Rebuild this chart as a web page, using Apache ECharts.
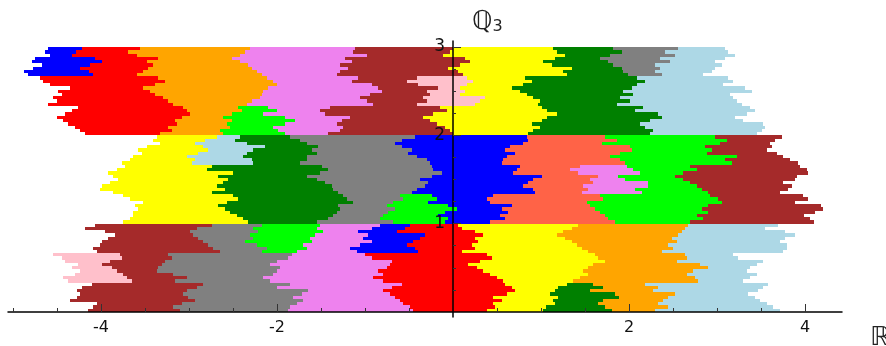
<!DOCTYPE html>
<html><head><meta charset="utf-8"><style>html,body{margin:0;padding:0;background:#fff}#c{width:886px;height:346px}</style>
<script src="https://cdn.jsdelivr.net/npm/echarts@6/dist/echarts.min.js"></script></head><body><div id="c"></div>
<script>
const palette = {blue:'#0000ff',red:'#ff0000',orange:'#ffa500',violet:'#ee82ee',brown:'#a52a2a',yellow:'#ffff00',green:'#008000',gray:'#808080',lightblue:'#add8e6',pink:'#ffc0cb',lime:'#00ff00',tomato:'#ff6347'};
const xLabelTicks = [-4,-2,2,4];
const xMinorTicks = [-5,-4.5,-3.5,-3,-2.5,-1.5,-1,-0.5,0.5,1,1.5,2.5,3,3.5];
const yLabelTicks = [1,2,3];
const yMinorTicks = [0.25,0.5,0.75,1.25,1.5,1.75,2.25,2.5,2.75];

// Each piece: the y range it covers, the colour order left to right, and the edges (one list per boundary, one value per row, top row first).
const top1Range=[3,2.6667], top1Colors=['blue','red','orange','violet','brown','yellow','green','gray','lightblue'];
const top1Edges=[
[-4.60,-4.64,-4.58,-4.75,-4.78,-4.67,-4.77,-4.88,-4.83],
[-4.22,-4.28,-4.33,-4.07,-3.99,-4.13,-4.24,-4.14,-4.09],
[-3.56,-3.69,-3.59,-3.35,-3.48,-3.41,-3.47,-3.52,-3.59],
[-2.31,-2.36,-2.42,-2.51,-2.42,-2.33,-2.28,-2.23,-2.17],
[-1.11,-1.14,-0.98,-1.23,-1.15,-1.28,-1.19,-1.28,-1.32],
[0,-0.03,-0.11,0.14,0.19,0.08,-0.06,0.06,0.11],
[1.14,1.18,1.27,1.16,1.02,1.13,1.35,1.25,1.30],
[1.82,1.92,1.78,1.67,1.76,1.82,1.92,1.93,1.99],
[2.56,2.41,2.52,2.35,2.47,2.30,2.35,2.30,2.38],
[3.09,3.13,3.20,3.09,2.98,3.06,2.98,2.94,2.84]];
const top2Range=[2.6667,2.3333], top2Colors=['red','orange','violet','brown','pink','yellow','green','lightblue'];
const top2Edges=[
[-4.69,-4.66,-4.58,-4.35,-4.49,-4.44,-4.55,-4.50,-4.60],
[-3.35,-3.27,-3.39,-3.52,-3.44,-3.39,-3.30,-3.24,-3.18],
[-2.11,-2.05,-2.00,-2.10,-2.16,-2.17,-2.19,-2.28,-2.34],
[-1.08,-1.15,-0.92,-0.85,-0.81,-0.94,-1.06,-0.98,-0.91],
[-0.41,-0.52,-0.40,-0.17,-0.30,-0.26,-0.34,-0.30,-0.41],
[0.16,0.23,0.16,0.08,0.14,0.08,0.36,0.31,0.25],
[0.82,0.90,0.80,0.67,0.76,0.84,0.91,0.99,0.97],
[2.09,2.18,2.09,2.03,1.93,2.05,1.90,2.01,1.86],
[3.13,3.18,3.07,3.32,3.40,3.15,3.18,3.23,3.28]];
const top3Range=[2.3333,2], top3Colors=['red','orange','lime','violet','brown','yellow','green','lightblue'];
const top3Edges=[
[-4.26,-4.33,-4.41,-4.50,-4.43,-4.38,-4.30,-4.24,-4.18],
[-3.07,-3.02,-2.99,-3.08,-3.16,-3.14,-3.24,-3.19,-3.33],
[-2.44,-2.40,-2.51,-2.61,-2.51,-2.57,-2.53,-2.65,-2.61],
[-2.10,-2.00,-2.16,-1.91,-1.80,-1.91,-2.05,-1.99,-1.91],
[-1.40,-1.51,-1.45,-1.17,-1.26,-1.32,-1.25,-1.28,-1.42],
[-0.15,-0.07,-0.23,-0.34,-0.26,-0.18,-0.09,-0.03,0],
[1.01,1.07,1.18,1.07,1.01,0.90,0.99,0.91,0.85],
[2.16,2.07,2.33,2.38,2.24,2.13,2.18,2.27,2.24],
[3.38,3.43,3.34,3.20,3.30,3.52,3.55,3.51,3.45]];

const mid1Range=[2,1.6667], mid1Colors=['yellow','lightblue','green','gray','blue','tomato','lime','brown'];
const mid1Edges=[
[-3.36,-3.41,-3.33,-3.48,-3.58,-3.53,-3.64,-3.67,-3.76],
[-2.68,-2.82,-2.93,-2.84,-2.78,-2.90,-3.02,-2.93,-2.97],
[-2.42,-2.48,-2.34,-2.14,-2.27,-2.34,-2.39,-2.28,-2.27],
[-1.85,-1.74,-1.66,-1.53,-1.60,-1.55,-1.66,-1.66,-1.74],
[-0.43,-0.58,-0.66,-0.58,-0.47,-0.51,-0.41,-0.30,-0.26],
[0.84,0.85,0.80,0.65,0.59,0.70,0.61,0.57,0.56],
[1.73,1.86,1.69,2.01,2.03,1.90,1.78,1.90,1.95],
[2.98,3.11,3.03,2.86,2.94,2.89,3.23,3.09,3.17],
[3.74,3.66,3.60,3.63,3.57,3.68,3.75,3.83,3.92]];
const mid2Range=[1.6667,1.3333], mid2Colors=['yellow','green','gray','blue','tomato','violet','lime','brown'];
const mid2Edges=[
[-3.73,-3.82,-3.92,-3.86,-3.81,-3.90,-3.99,-4.01,-3.86],
[-2.74,-2.80,-2.50,-2.67,-2.56,-2.61,-2.68,-2.59,-2.74],
[-1.49,-1.42,-1.51,-1.66,-1.55,-1.45,-1.38,-1.36,-1.31],
[-0.24,-0.23,-0.13,-0.24,-0.38,-0.28,-0.32,-0.41,-0.47],
[0.76,0.73,0.68,1.01,0.91,0.85,0.80,0.91,0.93],
[1.44,1.33,1.42,1.65,1.56,1.59,1.48,1.53,1.47],
[1.98,2.05,2.13,1.88,1.95,2.22,2.22,2.07,2.15],
[2.69,2.77,2.61,2.52,2.61,2.69,2.77,2.83,2.90],
[3.94,4.02,4.03,3.91,3.89,3.75,3.85,3.81,3.72]];
const mid3Range=[1.3333,1], mid3Colors=['yellow','green','gray','lime','blue','tomato','lime','brown'];
const mid3Edges=[
[-3.75,-3.67,-3.52,-3.61,-3.58,-3.64,-3.64,-3.67,-3.75],
[-2.50,-2.44,-2.57,-2.67,-2.59,-2.53,-2.45,-2.39,-2.33],
[-1.25,-1.20,-1.14,-1.31,-1.28,-1.32,-1.36,-1.42,-1.55],
[-0.60,-0.57,-0.68,-0.75,-0.66,-0.74,-0.80,-0.83,-0.68],
[-0.24,-0.18,-0.28,-0.06,0.05,-0.09,-0.17,-0.06,-0.09],
[0.45,0.39,0.42,0.67,0.56,0.63,0.53,0.59,0.42],
[1.67,1.70,1.52,1.56,1.61,1.67,1.73,1.76,1.84],
[2.92,3.01,3.06,2.90,2.83,2.90,2.77,2.84,2.69],
[3.98,4.03,3.89,4.18,4.20,4.11,3.99,4.06,4.10]];

const bot1Range=[1,0.6667], bot1Colors=['brown','gray','lime','violet','blue','red','yellow','orange','lightblue'];
const bot1Edges=[
[-4.07,-4.18,-3.95,-3.84,-3.92,-3.99,-4.01,-4.09,-4.05],
[-2.74,-2.91,-2.99,-2.95,-2.90,-2.84,-2.78,-2.73,-2.65],
[-2.17,-2.27,-2.22,-2.31,-2.27,-2.36,-2.23,-2.11,-2.17],
[-1.51,-1.55,-1.48,-1.57,-1.63,-1.60,-1.70,-1.66,-1.77],
[-0.83,-0.92,-1.08,-0.97,-1.02,-0.92,-1.06,-1.17,-1.09],
[-0.49,-0.55,-0.64,-0.32,-0.38,-0.45,-0.52,-0.43,-0.40],
[0.06,0.10,0.25,0.34,0.25,0.28,0.22,0.25,0.10],
[1.42,1.35,1.25,1.18,1.27,1.35,1.41,1.47,1.53],
[2.67,2.64,2.60,2.56,2.49,2.55,2.44,2.50,2.38],
[3.69,3.55,3.77,3.89,3.77,3.72,3.80,3.80,3.75]];
const bot2Range=[0.6667,0.3333], bot2Colors=['pink','brown','gray','violet','red','yellow','orange','lightblue'];
const bot2Edges=[
[-4.55,-4.44,-4.41,-4.26,-4.33,-4.24,-4.30,-4.43,-4.38],
[-3.78,-3.76,-3.90,-3.99,-3.88,-3.82,-3.75,-3.70,-3.65],
[-3.24,-3.19,-3.27,-3.31,-3.35,-3.36,-3.18,-3.02,-3.16],
[-1.83,-1.88,-2.00,-2.08,-1.97,-2.00,-2.05,-2.16,-2.08],
[-1.00,-0.92,-0.69,-0.72,-0.75,-0.85,-0.80,-0.91,-0.80],
[0.39,0.44,0.31,0.17,0.27,0.34,0.42,0.50,0.57],
[1.61,1.65,1.73,1.59,1.53,1.48,1.53,1.44,1.36],
[2.64,2.66,2.55,2.81,2.90,2.73,2.66,2.75,2.78],
[3.18,3.24,3.52,3.45,3.38,3.34,3.45,3.38,3.30]];
const bot3Range=[0.3333,0], bot3Colors=['brown','gray','violet','red','yellow','green','orange','lightblue'];
const bot3Edges=[
[-4.10,-4.22,-4.27,-4.24,-4.27,-4.35,-4.05,-4.09,-4.15],
[-2.84,-2.91,-3.02,-3.07,-3.01,-2.93,-3.08,-3.18,-3.10],
[-1.85,-2.00,-1.65,-1.72,-1.82,-1.70,-1.77,-1.85,-1.88],
[-0.58,-0.69,-0.80,-0.72,-0.66,-0.60,-0.57,-0.49,-0.45],
[0.59,0.67,0.70,0.61,0.45,0.56,0.45,0.48,0.39],
[1.30,1.19,1.16,1.10,1.19,1.14,1.16,1.06,1.02],
[1.59,1.70,1.56,1.84,1.89,1.70,1.65,1.73,1.81],
[2.18,2.33,2.27,2.52,2.44,2.39,2.33,2.44,2.30],
[3.58,3.52,3.47,3.35,3.43,3.49,3.57,3.64,3.72]];

const pieces=[
 [top1Range,top1Colors,top1Edges],[top2Range,top2Colors,top2Edges],[top3Range,top3Colors,top3Edges],
 [mid1Range,mid1Colors,mid1Edges],[mid2Range,mid2Colors,mid2Edges],[mid3Range,mid3Colors,mid3Edges],
 [bot1Range,bot1Colors,bot1Edges],[bot2Range,bot2Colors,bot2Edges],[bot3Range,bot3Colors,bot3Edges]];
const cells=[], cellColors=[];
pieces.forEach(([range,colors,edges])=>{
  const n=edges[0].length, h=(range[0]-range[1])/n;
  colors.forEach((c,k)=>{
    for(let r=0;r<n;r++){
      cells.push([edges[k][r],edges[k+1][r],range[0]-r*h,range[0]-(r+1)*h]);
      cellColors.push(palette[c]);
    }
  });
});
const xMin=-5.057,xMax=4.42,yMin=-0.057,yMax=3.068;
const font='"DejaVu Sans"';
const lineC='#000';
const xOff=-5, yOff=-445;
const chart=echarts.init(document.getElementById('c'),null,{renderer:'canvas'});
chart.setOption({
  animation:false,
  grid:{left:8,right:44,top:41,bottom:29,containLabel:false,outerBoundsMode:'none'},
  xAxis:[{
    type:'value',min:xMin,max:xMax,position:'bottom',offset:xOff,z:5,
    axisLine:{show:true,onZero:false,lineStyle:{color:lineC,width:1.5}},
    axisTick:{show:true,inside:true,length:8,customValues:xLabelTicks,lineStyle:{color:'#333',width:1}},
    axisLabel:{show:true,customValues:xLabelTicks,margin:8,fontFamily:font,fontSize:16,color:'#111',showMinLabel:true,showMaxLabel:true},
    splitLine:{show:false},
    name:'ℝ',nameLocation:'end',nameGap:28,
    nameTextStyle:{fontFamily:font,fontSize:26,color:'#222',align:'left',verticalAlign:'top',padding:[13,0,0,0]}
  },{
    type:'value',min:xMin,max:xMax,position:'bottom',offset:xOff,z:5,
    axisLine:{show:false,onZero:false},
    axisTick:{show:true,inside:true,length:4,customValues:xMinorTicks,lineStyle:{color:'#333',width:1}},
    axisLabel:{show:false},splitLine:{show:false}
  }],
  yAxis:[{
    type:'value',min:yMin,max:yMax,position:'left',offset:yOff,z:5,
    axisLine:{show:true,onZero:false,lineStyle:{color:lineC,width:1.5}},
    axisTick:{show:true,inside:true,length:8,customValues:yLabelTicks,lineStyle:{color:'#333',width:1}},
    axisLabel:{show:true,customValues:yLabelTicks,margin:8,fontFamily:font,fontSize:17,color:'#111'},
    splitLine:{show:false},
    name:'{q|ℚ}{s|3}',nameLocation:'end',nameGap:6,
    nameTextStyle:{align:'left',padding:[0,0,0,19],fontFamily:font,color:'#222',
      rich:{q:{fontFamily:font,fontSize:26,color:'#222'},s:{fontFamily:font,fontSize:16,color:'#222',padding:[10,0,0,0]}}}
  },{
    type:'value',min:yMin,max:yMax,position:'left',offset:yOff,z:5,
    axisLine:{show:false,onZero:false},
    axisTick:{show:true,inside:true,length:3,customValues:yMinorTicks,lineStyle:{color:'#333',width:1}},
    axisLabel:{show:false},splitLine:{show:false}
  }],
  series:[{
    type:'custom',coordinateSystem:'cartesian2d',xAxisIndex:0,yAxisIndex:0,z:1,clip:false,silent:true,
    encode:{x:[0,1],y:[2,3]},
    data:cells,
    renderItem:function(params,api){
      const a=api.coord([api.value(0),api.value(2)]), b=api.coord([api.value(1),api.value(3)]);
      const x0=Math.round(a[0]),x1=Math.round(b[0]),y0=Math.round(a[1]),y1=Math.round(b[1]);
      return {type:'rect',shape:{x:x0,y:y0,width:x1-x0,height:y1-y0},style:{fill:cellColors[params.dataIndex]}};
    }
  }]
});
</script></body></html>
